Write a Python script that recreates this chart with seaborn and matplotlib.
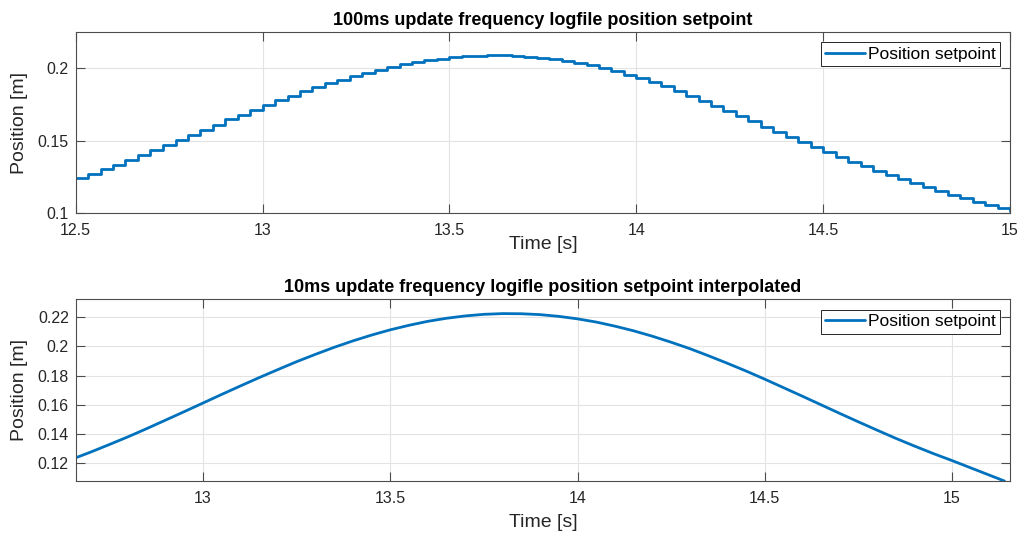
import matplotlib
matplotlib.use("Agg")
import matplotlib.pyplot as plt
import seaborn as sns

# ---------------- data ----------------
top_time = [12.5, 12.533, 12.567, 12.6, 12.633, 12.667, 12.7, 12.733, 12.767, 12.8,
            12.833, 12.867, 12.9, 12.933, 12.967, 13.0, 13.033, 13.067, 13.1, 13.133,
            13.167, 13.2, 13.233, 13.267, 13.3, 13.333, 13.367, 13.4, 13.433, 13.467,
            13.5, 13.533, 13.567, 13.6, 13.633, 13.667, 13.7, 13.733, 13.767, 13.8,
            13.833, 13.867, 13.9, 13.933, 13.967, 14.0, 14.033, 14.067, 14.1, 14.133,
            14.167, 14.2, 14.233, 14.267, 14.3, 14.333, 14.367, 14.4, 14.433, 14.467,
            14.5, 14.533, 14.567, 14.6, 14.633, 14.667, 14.7, 14.733, 14.767, 14.8,
            14.833, 14.867, 14.9, 14.933, 14.967, 15.0]
top_pos = [0.1241, 0.1271, 0.1303, 0.1335, 0.1368, 0.1402, 0.1436, 0.1471, 0.1506, 0.1541,
           0.1576, 0.1611, 0.1646, 0.1680, 0.1713, 0.1746, 0.1778, 0.1809, 0.1839, 0.1868,
           0.1895, 0.1921, 0.1945, 0.1968, 0.1989, 0.2008, 0.2025, 0.2040, 0.2054, 0.2065,
           0.2074, 0.2080, 0.2085, 0.2088, 0.2087, 0.2084, 0.2079, 0.2071, 0.2061, 0.2049,
           0.2035, 0.2018, 0.1999, 0.1978, 0.1955, 0.1930, 0.1903, 0.1874, 0.1843, 0.1810,
           0.1776, 0.1741, 0.1705, 0.1669, 0.1633, 0.1597, 0.1561, 0.1526, 0.1491, 0.1457,
           0.1423, 0.1389, 0.1356, 0.1324, 0.1293, 0.1263, 0.1234, 0.1206, 0.1179, 0.1153,
           0.1128, 0.1104, 0.1081, 0.1059, 0.1038, 0.1018]

bot_time = [12.66, 12.7, 12.75, 12.8, 12.85, 12.9, 12.95, 13.0, 13.05, 13.1,
            13.15, 13.2, 13.25, 13.3, 13.35, 13.4, 13.45, 13.5, 13.55, 13.6,
            13.65, 13.7, 13.75, 13.8, 13.85, 13.9, 13.95, 14.0, 14.05, 14.1,
            14.15, 14.2, 14.25, 14.3, 14.35, 14.4, 14.45, 14.5, 14.55, 14.6,
            14.65, 14.7, 14.75, 14.8, 14.85, 14.9, 14.95, 15.0, 15.05, 15.1,
            15.14]
bot_pos = [0.1238, 0.1277, 0.1329, 0.1382, 0.1438, 0.1496, 0.1554, 0.1613, 0.1672, 0.1730,
           0.1787, 0.1842, 0.1896, 0.1946, 0.1994, 0.2038, 0.2078, 0.2114, 0.2145, 0.2172,
           0.2193, 0.2209, 0.2220, 0.2225, 0.2224, 0.2218, 0.2206, 0.2189, 0.2167, 0.2139,
           0.2107, 0.2070, 0.2029, 0.1985, 0.1936, 0.1885, 0.1832, 0.1776, 0.1718, 0.1660,
           0.1601, 0.1542, 0.1484, 0.1427, 0.1371, 0.1318, 0.1267, 0.1219, 0.1169, 0.1119,
           0.1079]

top_xticks = [12.5, 13, 13.5, 14, 14.5, 15]
top_xticklabels = ["12.5", "13", "13.5", "14", "14.5", "15"]
top_yticks = [0.1, 0.15, 0.2]
top_yticklabels = ["0.1", "0.15", "0.2"]
bot_xticks = [13, 13.5, 14, 14.5, 15]
bot_xticklabels = ["13", "13.5", "14", "14.5", "15"]
bot_yticks = [0.12, 0.14, 0.16, 0.18, 0.2, 0.22]
bot_yticklabels = ["0.12", "0.14", "0.16", "0.18", "0.2", "0.22"]

top_title = "100ms update frequency logfile position setpoint"
bot_title = "10ms update frequency logifle position setpoint interpolated"
legend_label = "Position setpoint"
x_label = "Time [s]"
y_label = "Position [m]"

# ---------------- style ----------------
sns.set_theme(style="white")
plt.rcParams['font.family'] = ['Liberation Sans', 'DejaVu Sans']

LINE = '#0072BD'
TXT = '#262626'

fig = plt.figure(figsize=(10.22, 5.41), dpi=100)
ax1 = fig.add_axes([0.0741, 0.6057, 0.9142, 0.3357])
ax2 = fig.add_axes([0.0741, 0.1109, 0.9142, 0.3359])

sns.lineplot(x=top_time, y=top_pos, ax=ax1, color=LINE, linewidth=2.0,
             drawstyle='steps-post', label=legend_label, errorbar=None)
sns.lineplot(x=bot_time, y=bot_pos, ax=ax2, color=LINE, linewidth=2.0,
             label=legend_label, errorbar=None)


def style(ax, xlim, ylim, xt, xtl, yt, ytl, title, xlabel_y):
    ax.set_xlim(*xlim)
    ax.set_ylim(*ylim)
    ax.set_xticks(xt)
    ax.set_xticklabels(xtl)
    ax.set_yticks(yt)
    ax.set_yticklabels(ytl)
    ax.grid(True, color='#e3e3e3', linewidth=0.8)
    ax.set_axisbelow(True)
    for s in ax.spines.values():
        s.set_visible(True)
        s.set_color('#4d4d4d')
        s.set_linewidth(0.8)
    ax.tick_params(axis='both', which='major', direction='in', length=6.5, width=0.8,
                   top=True, right=True, bottom=True, left=True,
                   color='#4d4d4d', labelcolor=TXT, labelsize=11.5)
    ax.tick_params(axis='x', pad=7)
    ax.tick_params(axis='y', pad=5)
    ax.set_xlabel(x_label, fontsize=14, color=TXT)
    ax.xaxis.label.set_va('center')
    ax.xaxis.set_label_coords(0.5, xlabel_y)
    ax.set_ylabel(y_label, fontsize=14, color=TXT)
    ax.yaxis.label.set_va('center')
    ax.yaxis.set_label_coords(-0.0607, 0.5)
    ax.set_title(title, fontsize=13, fontweight='bold', color='black', pad=5)
    leg = ax.legend(loc='upper right', frameon=True, fancybox=False, edgecolor=TXT,
                    framealpha=1, fontsize=12.5, handlelength=2.3, handletextpad=0.15,
                    borderpad=0.25, borderaxespad=0.6)
    leg.get_frame().set_linewidth(0.7)
    for t in leg.get_texts():
        t.set_color('black')


style(ax1, (12.5, 15.0), (0.1, 0.225), top_xticks, top_xticklabels,
      top_yticks, top_yticklabels, top_title, -0.169)
style(ax2, (12.66, 15.155), (0.1079, 0.2323), bot_xticks, bot_xticklabels,
      bot_yticks, bot_yticklabels, bot_title, -0.231)

fig.savefig("out.png", dpi=100)
